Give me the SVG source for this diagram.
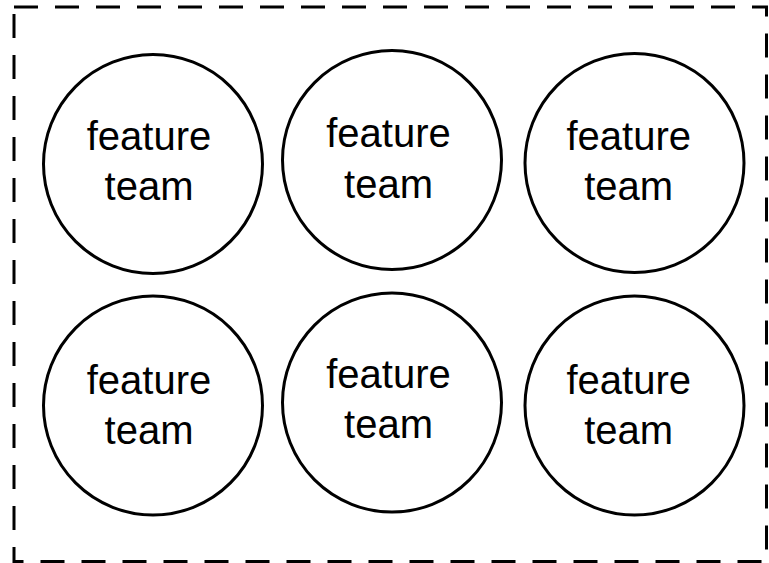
<svg xmlns="http://www.w3.org/2000/svg" width="769" height="563" viewBox="0 0 769 563">
<style>
.team{fill:#fff;stroke:#000;stroke-width:3}
.lbl{font-family:"Liberation Sans",Arial,sans-serif;font-size:40px;fill:#000;text-anchor:middle}
.frame{fill:none;stroke:#000;stroke-width:3;stroke-dasharray:24 17}
</style>
<rect width="769" height="563" fill="#fff"/>
<g id="frame"><rect class="frame" x="14" y="7" width="752.5" height="554.5"/></g>
<g id="connectors"/>
<g id="team1"><circle class="team" cx="153" cy="164" r="109.5"/><text class="lbl" x="149" y="150">feature</text><text class="lbl" x="149" y="200">team</text></g>
<g id="team2"><circle class="team" cx="392" cy="160" r="109.5"/><text class="lbl" x="388.5" y="147">feature</text><text class="lbl" x="388.5" y="198">team</text></g>
<g id="team3"><circle class="team" cx="634.5" cy="163" r="109.5"/><text class="lbl" x="628.7" y="150">feature</text><text class="lbl" x="628.7" y="200">team</text></g>
<g id="team4"><circle class="team" cx="153" cy="405.5" r="109.5"/><text class="lbl" x="149" y="394">feature</text><text class="lbl" x="149" y="444">team</text></g>
<g id="team5"><circle class="team" cx="392" cy="402.5" r="109.5"/><text class="lbl" x="388.5" y="388">feature</text><text class="lbl" x="388.5" y="438">team</text></g>
<g id="team6"><circle class="team" cx="634.5" cy="405.5" r="109.5"/><text class="lbl" x="628.7" y="394">feature</text><text class="lbl" x="628.7" y="444">team</text></g>
</svg>
